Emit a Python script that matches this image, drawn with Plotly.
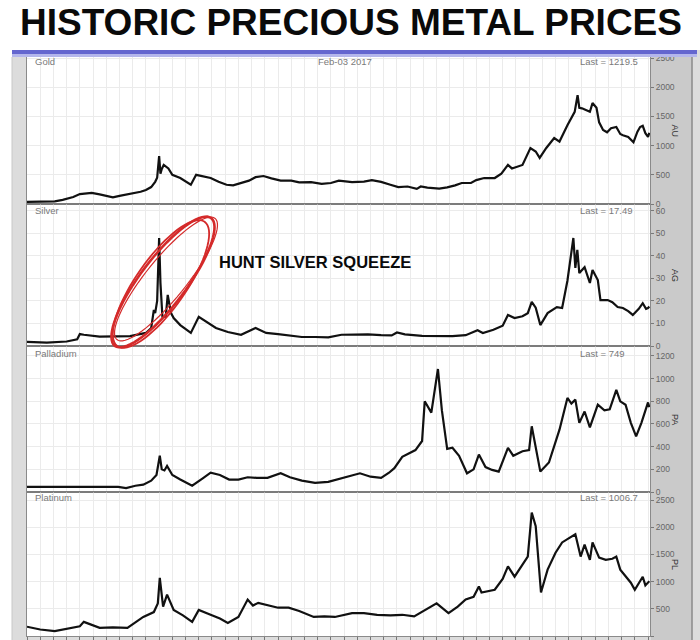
import math
import plotly.graph_objects as go
from plotly.subplots import make_subplots

# ---------------- data ----------------
gold_years = [1970.0, 1971.0, 1972.1, 1972.7, 1973.5, 1974.0, 1974.9, 1975.5, 1976.0, 1976.5,
              1977.0, 1977.6, 1978.6, 1979.0, 1979.4, 1979.7, 1979.85, 1980.0, 1980.1, 1980.2,
              1980.35, 1980.7, 1981.0, 1981.6, 1982.4, 1982.8, 1983.2, 1983.9, 1984.5, 1985.1,
              1985.6, 1986.2, 1986.8, 1987.3, 1987.9, 1988.5, 1989.2, 1990.0, 1990.6, 1991.5,
              1992.3, 1993.0, 1993.6, 1994.6, 1995.5, 1996.1, 1996.8, 1997.5, 1998.1, 1998.8,
              1999.5, 1999.8, 2000.3, 2001.2, 2001.8, 2002.4, 2002.9, 2003.6, 2004.0, 2004.6,
              2005.4, 2005.9, 2006.4, 2006.7, 2007.5, 2008.1, 2008.5, 2008.8, 2009.3, 2009.9,
              2010.3, 2010.9, 2011.45, 2011.67, 2011.8, 2012.0, 2012.6, 2012.8, 2013.1, 2013.3,
              2013.6, 2013.9, 2014.2, 2014.6, 2014.9, 2015.1, 2015.5, 2015.9, 2016.2, 2016.4,
              2016.6, 2016.8, 2017.0, 2017.1]
gold_prices = [35, 38, 45, 70, 120, 170, 190, 165, 135, 115,
               140, 165, 210, 240, 290, 380, 450, 820, 520, 600,
               670, 610, 500, 445, 330, 500, 480, 445, 380, 330,
               320, 360, 400, 460, 480, 440, 400, 400, 370, 375,
               345, 360, 400, 375, 385, 410, 380, 330, 290, 300,
               260, 300, 280, 265, 285, 320, 360, 360, 410, 445,
               445, 520, 670, 610, 670, 960, 900, 790, 960, 1130,
               1070, 1350, 1580, 1866, 1650, 1640, 1580, 1730, 1650, 1400,
               1270, 1230, 1300, 1320, 1200, 1180, 1150, 1060, 1240, 1320,
               1340, 1215, 1150, 1220]

silver_years = [1970.0, 1971.5, 1973.0, 1973.8, 1974.0, 1974.3, 1975.5, 1976.5, 1977.8, 1979.0,
                1979.4, 1979.6, 1979.7, 1979.85, 1980.0, 1980.1, 1980.25, 1980.5, 1980.65, 1980.9,
                1981.1, 1981.6, 1982.4, 1983.0, 1983.5, 1984.3, 1985.2, 1986.2, 1987.3, 1988.1,
                1989.0, 1990.8, 1991.8, 1992.8, 1993.8, 1994.8, 1995.8, 1996.8, 1997.6, 1998.0,
                1998.6, 1999.9, 2001.0, 2002.2, 2003.2, 2004.1, 2004.5, 2005.3, 2006.0, 2006.4,
                2006.9, 2007.5, 2007.9, 2008.2, 2008.5, 2008.85, 2009.4, 2010.1, 2010.5, 2010.9,
                2011.35, 2011.5, 2011.65, 2011.8, 2012.2, 2012.6, 2012.8, 2013.2, 2013.4, 2013.95,
                2014.3, 2014.7, 2015.1, 2015.5, 2015.85, 2016.3, 2016.6, 2016.85, 2017.0, 2017.1]
silver_prices = [1.8, 1.5, 2.0, 3.0, 5.3, 5.0, 4.2, 4.3, 4.4, 5.8,
                 8.0, 16.0, 14.6, 20.0, 48.0, 28.0, 13.0, 13.0, 22.7, 14.6,
                 12.4, 9.3, 5.8, 13.0, 11.0, 8.0, 6.2, 5.0, 8.0, 5.8,
                 5.3, 4.0, 4.0, 3.8, 5.0, 5.2, 5.2, 4.8, 4.7, 6.0,
                 5.2, 4.5, 4.4, 4.4, 4.8, 7.0, 5.8, 7.2, 9.0, 13.8,
                 12.4, 13.2, 14.6, 19.6, 17.0, 9.3, 14.6, 17.3, 16.9, 29.0,
                 48.0, 34.7, 42.7, 32.4, 35.0, 28.0, 33.8, 29.3, 20.4, 20.4,
                 19.5, 17.3, 16.9, 15.5, 13.8, 16.5, 19.0, 16.5, 16.9, 17.5]

palladium_years = [1970.0, 1976.9, 1977.5, 1978.2, 1978.8, 1979.4, 1979.8, 1980.05, 1980.2, 1980.4,
                   1980.6, 1981.0, 1981.6, 1982.5, 1983.3, 1983.9, 1984.6, 1985.3, 1986.0, 1986.7,
                   1987.4, 1988.2, 1989.2, 1989.9, 1990.8, 1991.8, 1992.8, 1993.8, 1994.6, 1995.2,
                   1996.0, 1996.8, 1997.4, 1997.8, 1998.4, 1999.4, 1999.9, 2000.1, 2000.6, 2000.8,
                   2001.1, 2001.4, 2001.8, 2002.2, 2002.7, 2003.3, 2003.8, 2004.2, 2004.7, 2005.2,
                   2005.7, 2006.4, 2006.8, 2007.5, 2008.0, 2008.2, 2008.4, 2008.85, 2009.5, 2010.3,
                   2010.9, 2011.2, 2011.5, 2011.8, 2012.2, 2012.6, 2013.2, 2013.7, 2014.1, 2014.6,
                   2014.9, 2015.3, 2015.7, 2016.1, 2016.5, 2016.8, 2017.0, 2017.1]
palladium_prices = [45, 45, 35, 55, 65, 100, 150, 320, 200, 190,
                    230, 150, 110, 55, 120, 170, 150, 110, 110, 130,
                    125, 125, 165, 130, 100, 80, 90, 120, 150, 165,
                    135, 125, 170, 210, 310, 370, 450, 800, 700, 840,
                    1085, 720, 380, 390, 320, 165, 200, 330, 220, 195,
                    180, 390, 320, 360, 370, 580, 460, 180, 260, 550,
                    830, 780, 815, 610, 710, 570, 770, 720, 730, 900,
                    800, 770, 610, 490, 610, 710, 790, 749]

platinum_years = [1970.0, 1971.0, 1972.1, 1973.0, 1974.0, 1974.3, 1975.5, 1976.5, 1977.6, 1978.8,
                  1979.6, 1979.9, 1980.05, 1980.3, 1980.6, 1981.1, 1981.8, 1982.5, 1983.0, 1983.8,
                  1984.6, 1985.2, 1986.0, 1986.7, 1987.1, 1987.5, 1988.2, 1989.0, 1989.8, 1990.6,
                  1991.7, 1992.5, 1993.3, 1994.6, 1995.5, 1996.5, 1997.5, 1998.4, 1999.3, 2000.2,
                  2001.0, 2001.9, 2002.6, 2003.2, 2003.8, 2004.2, 2004.4, 2005.4, 2006.0, 2006.4,
                  2006.9, 2007.5, 2007.9, 2008.2, 2008.5, 2008.9, 2009.4, 2010.0, 2010.5, 2010.9,
                  2011.5, 2011.9, 2012.2, 2012.6, 2012.8, 2013.3, 2013.8, 2014.3, 2014.6, 2014.9,
                  2015.3, 2015.7, 2016.0, 2016.4, 2016.6, 2016.8, 2017.0, 2017.1]
platinum_prices = [170, 120, 90, 130, 180, 260, 150, 160, 150, 350,
                   440, 600, 1070, 540, 760, 480, 380, 260, 480, 400,
                   320, 240, 350, 670, 560, 610, 570, 520, 520, 460,
                   350, 360, 350, 420, 420, 390, 380, 390, 360, 480,
                   600, 420, 540, 670, 720, 910, 800, 850, 1050, 1280,
                   1090, 1310, 1460, 2270, 2020, 800, 1220, 1530, 1720, 1780,
                   1870, 1460, 1680, 1400, 1720, 1440, 1400, 1420, 1460, 1220,
                   1090, 980, 850, 1010, 1090, 930, 980, 1007]

panel_names = ["Gold", "Silver", "Palladium", "Platinum"]
panel_codes = ["AU", "AG", "PA", "PL"]
last_labels = ["Last = 1219.5", "Last = 17.49", "Last = 749", "Last = 1006.7"]
date_label = "Feb-03 2017"
title_text = "HISTORIC PRECIOUS METAL PRICES"
callout_text = "HUNT SILVER SQUEEZE"

# ---------------- layout geometry (pixels) ----------------
W, H = 700, 640
PL, PR, PT, PB = 27, 650, 57, 636          # plot area in pixels
panel_px = [(57, 204), (204, 346), (346, 492), (492, 636)]
y_ranges = [[0, 2520], [0, 63.1], [0, 1288], [0, 2647]]
y_dticks = [500, 10, 200, 500]


def xp(px):
    return (px - PL) / (PR - PL)


def yp(py):
    return (PB - py) / (PB - PT)


fig = make_subplots(rows=4, cols=1, shared_xaxes=True, vertical_spacing=0)

series = [(gold_years, gold_prices), (silver_years, silver_prices),
          (palladium_years, palladium_prices), (platinum_years, platinum_prices)]
for i, (xs, ys) in enumerate(series):
    fig.add_trace(go.Scatter(x=xs, y=ys, mode="lines",
                             line=dict(color="#111111", width=2.2),
                             showlegend=False, hoverinfo="skip"), row=i + 1, col=1)

tick_font = dict(family="Liberation Sans, Arial, sans-serif", size=8.5, color="#333333")
for i in range(4):
    top, bot = panel_px[i]
    yname = "yaxis" if i == 0 else f"yaxis{i + 1}"
    xname = "xaxis" if i == 0 else f"xaxis{i + 1}"
    fig.layout[yname].update(domain=[yp(bot), yp(top)], range=y_ranges[i], side="right",
                             dtick=y_dticks[i], tick0=0, ticks="outside", ticklen=3,
                             tickcolor="#555555", tickfont=tick_font, automargin=False,
                             showgrid=True, gridcolor="#ebebeb", gridwidth=1,
                             zeroline=False, showline=True, linecolor="#8a8a8a",
                             linewidth=1, mirror=True, fixedrange=True)
    fig.layout[xname].update(range=[1970, 2017.15], dtick=1, tick0=1970, automargin=False,
                             showgrid=True, gridcolor="#ebebeb", gridwidth=1,
                             showticklabels=False, zeroline=False,
                             showline=True, linecolor="#8a8a8a", mirror=True,
                             ticks="outside" if i == 3 else "", ticklen=4,
                             tickcolor="#777777")

shapes = []
# white areas around the grey chart window (paper itself is grey)
shapes.append(dict(type="rect", xref="paper", yref="paper", x0=xp(0), x1=xp(W), y0=yp(50), y1=yp(0),
                   fillcolor="#ffffff", line=dict(width=0), layer="below"))
shapes.append(dict(type="rect", xref="paper", yref="paper", x0=xp(0), x1=xp(12), y0=yp(H), y1=yp(50),
                   fillcolor="#ffffff", line=dict(width=0), layer="below"))
# grey strip behind the right-hand value axis (translucent so the tick labels stay readable)
shapes.append(dict(type="rect", xref="paper", yref="paper", x0=xp(PR + 1), x1=xp(692), y0=yp(H), y1=yp(PT),
                   fillcolor="#b0b0b0", opacity=0.4, line=dict(width=0), layer="above"))
shapes.append(dict(type="line", xref="paper", yref="paper", x0=xp(692), x1=xp(692), y0=yp(640), y1=yp(PT),
                   line=dict(color="#8a8a8a", width=1.5)))
shapes.append(dict(type="line", xref="paper", yref="paper", x0=xp(12), x1=xp(12), y0=yp(640), y1=yp(PT),
                   line=dict(color="#c8c8c8", width=1)))
# blue title bar of the chart window
shapes.append(dict(type="rect", xref="paper", yref="paper", x0=xp(12), x1=xp(697), y0=yp(54), y1=yp(50),
                   fillcolor="#6466cf", line=dict(width=0)))
shapes.append(dict(type="rect", xref="paper", yref="paper", x0=xp(12), x1=xp(697), y0=yp(57), y1=yp(54),
                   fillcolor="#b4b6ec", line=dict(width=0)))
# panel separators
for top, bot in panel_px[1:]:
    shapes.append(dict(type="line", xref="paper", yref="paper", x0=0, x1=1, y0=yp(top), y1=yp(top),
                       line=dict(color="#6e6e6e", width=1.2)))


# red hand-drawn ellipses around the silver spike
def ellipse_path(cx, cy, a, b, ang_deg, n=72):
    ang = math.radians(ang_deg)
    pts = []
    for k in range(n + 1):
        t = 2 * math.pi * k / n
        ex, ey = a * math.cos(t), b * math.sin(t)
        px = cx + ex * math.cos(ang) + ey * math.sin(ang)
        py = cy - ex * math.sin(ang) + ey * math.cos(ang)
        pts.append(f"{xp(px):.5f},{yp(py):.5f}")
    return "M " + " L ".join(pts) + " Z"


for (cx, cy, a, b, ang, w) in [(163, 282, 80, 23, 53, 2.6), (166, 279, 78, 20, 51, 1.2), (161, 284, 76, 25, 55, 1.8)]:
    shapes.append(dict(type="path", xref="paper", yref="paper", path=ellipse_path(cx, cy, a, b, ang),
                       line=dict(color="#d42a2a", width=w)))

annotations = []
label_font = dict(family="Liberation Sans, Arial, sans-serif", size=9.5, color="#7a7a7a")
label_y = [62, 210, 353, 497]
for i in range(4):
    annotations.append(dict(text=panel_names[i], xref="paper", yref="paper", x=xp(33), y=yp(label_y[i]),
                            xanchor="left", yanchor="middle", showarrow=False, font=label_font))
    annotations.append(dict(text=last_labels[i], xref="paper", yref="paper", x=xp(578), y=yp(label_y[i]),
                            xanchor="left", yanchor="middle", showarrow=False, font=label_font))
    top, bot = panel_px[i]
    annotations.append(dict(text=panel_codes[i], xref="paper", yref="paper", x=xp(675), y=yp((top + bot) / 2),
                            xanchor="center", yanchor="middle", showarrow=False, textangle=90,
                            font=dict(family="Liberation Sans, Arial, sans-serif", size=9, color="#333333")))
annotations.append(dict(text=date_label, xref="paper", yref="paper", x=xp(345), y=yp(62),
                        xanchor="center", yanchor="middle", showarrow=False, font=label_font))
annotations.append(dict(text="<b>" + title_text + "</b>", xref="paper", yref="paper", x=xp(351), y=yp(23),
                        xanchor="center", yanchor="middle", showarrow=False,
                        font=dict(family="Liberation Sans, Arial, sans-serif", size=37, color="#0a0a0a")))
annotations.append(dict(text="<b>" + callout_text + "</b>", xref="paper", yref="paper", x=xp(217), y=yp(262),
                        xanchor="left", yanchor="middle", showarrow=False,
                        font=dict(family="Liberation Sans, Arial, sans-serif", size=16.5, color="#0a0a0a")))

fig.update_layout(width=W, height=H, margin=dict(l=PL, r=W - PR, t=PT, b=H - PB),
                  paper_bgcolor="#dcdcdc", plot_bgcolor="#ffffff",
                  shapes=shapes, annotations=annotations, showlegend=False)

fig.write_html("out.html", config={"displayModeBar": False},
               post_script="document.body.style.margin='0px';")
